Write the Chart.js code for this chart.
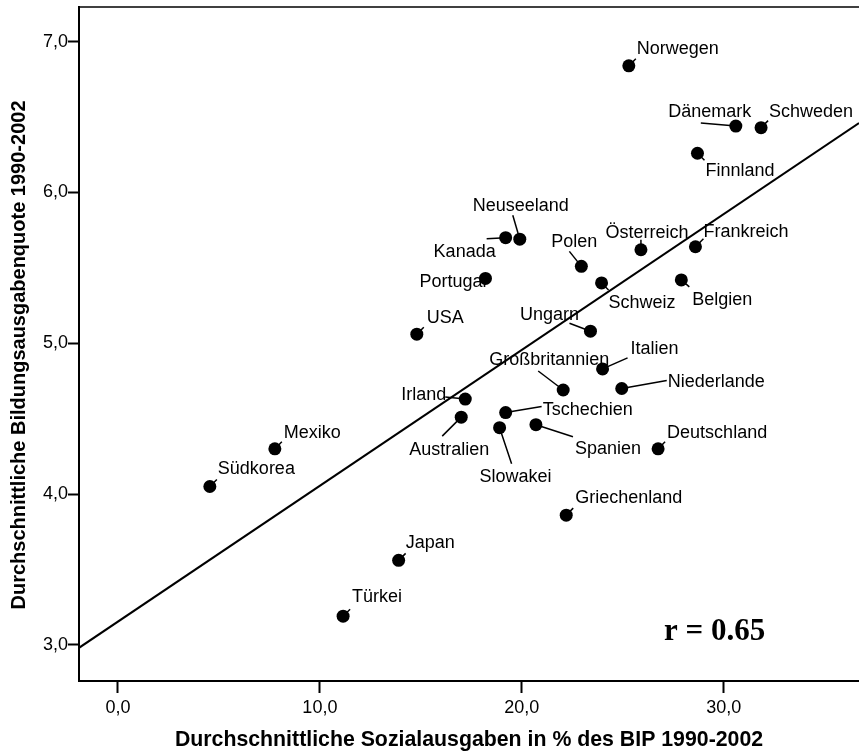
<!DOCTYPE html>
<html>
<head>
<meta charset="utf-8">
<script src="https://cdn.jsdelivr.net/npm/chart.js@4.4.0/dist/chart.umd.min.js"></script>
<style>
  body { margin: 0; background: #fff; }
  canvas { display: block; }
</style>
</head>
<body>
<canvas id="scatterChart" width="859" height="753"></canvas>
<script>
const countries = ['Norwegen', 'Dänemark', 'Schweden', 'Finnland', 'Neuseeland', 'Kanada', 'Portugal',
  'Polen', 'Österreich', 'Frankreich', 'Schweiz', 'Belgien', 'USA', 'Ungarn', 'Italien',
  'Großbritannien', 'Niederlande', 'Irland', 'Australien', 'Tschechien', 'Slowakei', 'Spanien',
  'Deutschland', 'Griechenland', 'Mexiko', 'Südkorea', 'Japan', 'Türkei'];
// Sozialausgaben in % des BIP
const social = [25.3, 30.6, 31.85, 28.7, 19.9, 19.2, 18.2,
  22.95, 25.9, 28.6, 23.95, 27.9, 14.8, 23.4, 24.0,
  22.05, 24.95, 17.2, 17.0, 19.2, 18.9, 20.7,
  26.75, 22.2, 7.77, 4.55, 13.9, 11.15];
// Bildungsausgabenquote
const education = [6.84, 6.44, 6.43, 6.26, 5.69, 5.70, 5.43,
  5.51, 5.62, 5.64, 5.40, 5.42, 5.06, 5.08, 4.83,
  4.69, 4.70, 4.63, 4.51, 4.54, 4.44, 4.46,
  4.30, 3.86, 4.30, 4.05, 3.56, 3.19];
// Regressionsgerade (Endpunkte am Rand)
const fitX = [-1.93, 36.7];
const fitY = [2.98, 6.46];
const xTicks = [0, 10, 20, 30];
const yTicks = [3, 4, 5, 6, 7];
const rText = 'r = 0.65';
const yTitle = 'Durchschnittliche Bildungsausgabenquote 1990-2002';

const fontFamily = '"Liberation Sans", Arial, sans-serif';
const fmt = v => v.toFixed(1).replace('.', ',');

// label placement relative to the dot: [align, dx, baseline dy, leader x1, y1, x2, y2]
const labelLayout = {
  'Norwegen':       ['left', 8, -12, 0, 0, 7, -7],
  'Dänemark':       ['center', -26, -9, -35, -3, 0, 0],
  'Schweden':       ['left', 8, -11, 0, 0, 7, -7],
  'Finnland':       ['left', 8, 23, 0, 0, 7, 7],
  'Neuseeland':     ['center', 1, -28, -7, -24, 0, 0],
  'Kanada':         ['center', -41, 19, -19, 1, 0, 0],
  'Portugal':       ['right', 1, 9, 0, 0, 0, 0],
  'Polen':          ['center', -7, -19, -12, -15, 0, 0],
  'Österreich':     ['center', 6, -12, 0, -10, 0, 0],
  'Frankreich':     ['left', 8, -10, 0, 0, 8, -8],
  'Schweiz':        ['left', 7, 25, 0, 0, 7, 7],
  'Belgien':        ['left', 11, 25, 0, 0, 8, 7],
  'USA':            ['left', 10, -11, 0, 0, 7, -7],
  'Ungarn':         ['center', -41, -11, -21, -8, 0, 0],
  'Italien':        ['left', 28, -15, 25, -11, 0, 0],
  'Großbritannien': ['center', -14, -25, -25, -19, 0, 0],
  'Niederlande':    ['left', 46, -1, 45, -8, 0, 0],
  'Irland':         ['right', -19, 1, -20, -2, 0, 0],
  'Australien':     ['center', -12, 38, -19, 19, 0, 0],
  'Tschechien':     ['left', 37, 2, 36, -6, 0, 0],
  'Slowakei':       ['center', 16, 54, 12, 36, 0, 0],
  'Spanien':        ['left', 39, 29, 37, 12, 0, 0],
  'Deutschland':    ['left', 9, -11, 0, 0, 7, -7],
  'Griechenland':   ['left', 9, -12, 0, 0, 7, -7],
  'Mexiko':         ['left', 9, -11, 0, 0, 7, -7],
  'Südkorea':       ['left', 8, -12, 0, 0, 7, -7],
  'Japan':          ['left', 7, -12, 0, 0, 7, -7],
  'Türkei':         ['left', 9, -14, 0, 0, 7, -7]
};

const countryLabels = {
  id: 'countryLabels',
  beforeDatasetsDraw(chart) {
    const ctx = chart.ctx;
    const meta = chart.getDatasetMeta(0);
    ctx.save();
    ctx.fillStyle = '#000';
    ctx.strokeStyle = '#000';
    ctx.lineWidth = 1.5;
    ctx.font = '18px ' + fontFamily;
    ctx.textBaseline = 'alphabetic';
    meta.data.forEach((pt, i) => {
      const l = labelLayout[countries[i]];
      if (!l) return;
      if (l[3] !== l[5] || l[4] !== l[6]) {
        ctx.beginPath();
        ctx.moveTo(pt.x + l[3], pt.y + l[4]);
        ctx.lineTo(pt.x + l[5], pt.y + l[6]);
        ctx.stroke();
      }
      ctx.textAlign = l[0];
      ctx.fillText(countries[i], pt.x + l[1], pt.y + l[2]);
    });
    ctx.restore();
  },
  afterDraw(chart) {
    const ctx = chart.ctx;
    const {left, right, top} = chart.chartArea;
    ctx.save();
    ctx.strokeStyle = '#000';
    ctx.lineWidth = 1.5;
    ctx.beginPath();
    ctx.moveTo(left, top);
    ctx.lineTo(right, top);
    ctx.stroke();
    // y axis title, set a bit lower than the axis middle like the original
    ctx.fillStyle = '#000';
    ctx.font = 'bold 20px ' + fontFamily;
    ctx.textAlign = 'center';
    ctx.textBaseline = 'middle';
    ctx.translate(19, 355);
    ctx.rotate(-Math.PI / 2);
    ctx.fillText(yTitle, 0, 0);
    ctx.setTransform(1, 0, 0, 1, 0, 0);
    // correlation coefficient
    ctx.font = 'bold 31px "Liberation Serif", "Times New Roman", serif';
    ctx.textBaseline = 'alphabetic';
    ctx.fillText(rText, chart.scales.x.getPixelForValue(29.55), chart.scales.y.getPixelForValue(3.03));
    ctx.restore();
  }
};

const ctx = document.getElementById('scatterChart').getContext('2d');

const scatterChart = new Chart(ctx, {
  type: 'scatter',
  data: {
    datasets: [{
      label: 'Länder',
      data: social.map((x, i) => ({x: x, y: education[i]})),
      backgroundColor: '#000',
      borderWidth: 0,
      pointRadius: 6.5
    }, {
      label: 'Regression',
      data: fitX.map((x, i) => ({x: x, y: fitY[i]})),
      showLine: true,
      borderColor: '#000',
      borderWidth: 2,
      pointRadius: 0,
      fill: false
    }]
  },
  options: {
    responsive: false,
    animation: false,
    layout: { autoPadding: false, padding: { top: 7, right: 0, bottom: 0, left: 0 } },
    plugins: {
      legend: { display: false },
      tooltip: { enabled: false }
    },
    scales: {
      x: {
        type: 'linear',
        min: fitX[0],
        max: fitX[1],
        afterFit(scale) {
          scale.height = 72;
          scale.paddingLeft = 0;
          scale.paddingRight = 0;
        },
        afterBuildTicks(scale) { scale.ticks = xTicks.map(v => ({value: v})); },
        grid: { drawOnChartArea: false, drawTicks: true, tickLength: 12, tickWidth: 2, tickColor: '#000' },
        border: { display: true, color: '#000', width: 2 },
        ticks: { padding: 4, color: '#000', font: { family: fontFamily, size: 18 }, callback: v => fmt(v) },
        title: {
          display: true,
          text: 'Durchschnittliche Sozialausgaben in % des BIP 1990-2002',
          color: '#000',
          font: { family: fontFamily, size: 21.3, weight: 'bold' },
          padding: { top: 0, bottom: 0 }
        }
      },
      y: {
        type: 'linear',
        min: 2.76,
        max: 7.23,
        afterFit(scale) {
          scale.width = 79;
          scale.paddingTop = 0;
          scale.paddingBottom = 0;
        },
        afterBuildTicks(scale) { scale.ticks = yTicks.map(v => ({value: v})); },
        grid: { drawOnChartArea: false, drawTicks: true, tickLength: 11, tickWidth: 2, tickColor: '#000' },
        border: { display: true, color: '#000', width: 2 },
        ticks: { padding: 0, color: '#000', font: { family: fontFamily, size: 18 }, callback: v => fmt(v) }
      }
    }
  },
  plugins: [countryLabels]
});
</script>
</body>
</html>
